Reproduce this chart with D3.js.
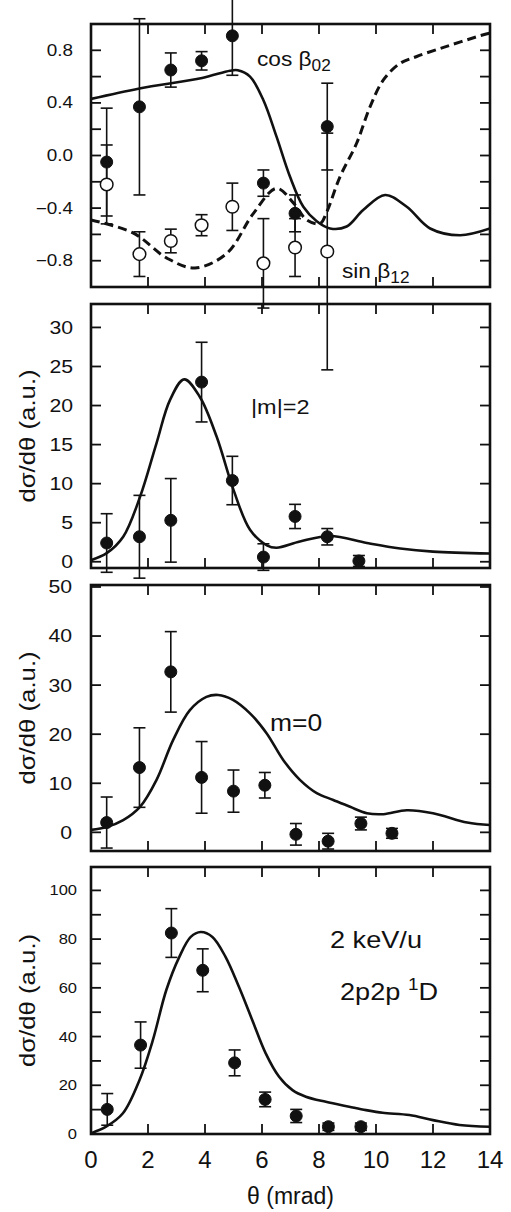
<!DOCTYPE html>
<html><head><meta charset="utf-8">
<script src="https://cdn.jsdelivr.net/npm/d3@7"></script>
<style>body{margin:0;background:#fff}text{font-family:"Liberation Sans",Arial,sans-serif;fill:#111}</style>
</head><body><svg id="c" width="511" height="1212"></svg>
<script>
// ---------- data ----------
const xTicks = [0, 2, 4, 6, 8, 10, 12, 14];

// panel 1: cos beta02 (filled) and sin beta12 (open)
const p1Theta = [0.55, 1.70, 2.80, 3.88, 4.96, 6.05, 7.16, 8.29];
const cosVal = [-0.05, 0.37, 0.65, 0.72, 0.91, -0.21, -0.44, 0.22];
const cosErr = [0.41, 0.67, 0.13, 0.07, 0.30, 0.10, 0.14, 0.33];
const sinVal = [-0.22, -0.75, -0.65, -0.53, -0.39, -0.82, -0.70, -0.73];
const sinErr = [0.30, 0.17, 0.09, 0.08, 0.18, 0.34, 0.22, 0.90];
const cosCurveTheta = [0, 1.7, 3.9, 4.88, 5.15, 5.58, 6.05, 6.51, 6.98, 7.45, 7.92, 8.39, 8.97, 9.55, 10.32, 11.08, 11.9, 12.95, 14];
const cosCurve = [0.43, 0.51, 0.59, 0.645, 0.648, 0.60, 0.42, 0.143, -0.16, -0.39, -0.50, -0.555, -0.54, -0.415, -0.30, -0.39, -0.555, -0.606, -0.555];
const sinCurveTheta = [0, 1.49, 2.66, 3.65, 4.76, 5.7, 6.51, 7.1, 7.57, 8.04, 8.27, 8.74, 9.32, 9.79, 10.26, 10.84, 11.43, 12.48, 13.77, 14];
const sinCurve = [-0.49, -0.59, -0.78, -0.855, -0.745, -0.44, -0.25, -0.36, -0.49, -0.517, -0.43, -0.16, 0.093, 0.37, 0.575, 0.70, 0.753, 0.83, 0.918, 0.93];
const p1Ticks = [-0.8, -0.6, -0.4, -0.2, 0, 0.2, 0.4, 0.6, 0.8];
const p1Labels = [-0.8, -0.4, 0, 0.4, 0.8];

// panel 2: |m|=2
const m2Theta = [0.55, 1.70, 2.80, 3.88, 4.96, 6.05, 7.16, 8.29, 9.40];
const m2Val = [2.4, 3.2, 5.3, 23.0, 10.4, 0.6, 5.8, 3.2, 0.1];
const m2Err = [3.75, 5.3, 5.35, 5.1, 3.1, 1.7, 1.55, 1.05, 0.7];
const m2CurveTheta = [0, 0.55, 1.13, 1.72, 2.3, 2.77, 3.27, 3.82, 4.41, 5.0, 5.58, 6.17, 6.51, 7.33, 8.39, 9.68, 10.85, 12.0, 14];
const m2Curve = [0.2, 1.1, 3.2, 8.3, 15.2, 20.7, 23.35, 21.1, 16.0, 9.2, 4.1, 2.1, 1.8, 2.6, 3.3, 2.4, 1.7, 1.3, 1.05];
const p2Ticks = [0, 5, 10, 15, 20, 25, 30];
const p2Labels = [0, 5, 10, 15, 20, 25, 30];

// panel 3: m=0
const m0Theta = [0.55, 1.70, 2.80, 3.88, 5.0, 6.1, 7.19, 8.32, 9.47, 10.56];
const m0Val = [2.0, 13.2, 32.7, 11.2, 8.4, 9.6, -0.4, -1.8, 1.8, -0.2];
const m0Err = [5.2, 8.1, 8.2, 7.3, 4.3, 2.6, 2.2, 1.6, 1.3, 1.0];
const m0CurveTheta = [0, 0.55, 1.13, 1.72, 2.3, 2.88, 3.47, 4.05, 4.46, 4.98, 5.57, 6.16, 6.75, 7.33, 7.92, 8.5, 9.09, 9.68, 10.26, 11.08, 12.0, 13.2, 14];
const m0Curve = [0.5, 1.1, 2.5, 5.2, 10.7, 18.8, 24.9, 27.6, 28.0, 27.0, 24.3, 20.2, 14.7, 10.7, 8.0, 6.6, 5.2, 3.9, 3.7, 4.5, 3.9, 2.0, 1.5];
const p3Ticks = [0, 10, 20, 30, 40, 50];
const p3Labels = [0, 10, 20, 30, 40, 50];

// panel 4: total 2p2p 1D
const totTheta = [0.57, 1.74, 2.82, 3.92, 5.04, 6.11, 7.2, 8.33, 9.47];
const totVal = [10.1, 36.5, 82.5, 67.2, 29.2, 14.2, 7.4, 3.0, 3.0];
const totErr = [6.5, 9.5, 10, 8.8, 5.3, 3, 2.7, 1.5, 1.5];
const totCurveTheta = [0, 0.53, 1.12, 1.7, 2.17, 2.64, 3.1, 3.5, 3.85, 4.26, 4.72, 5.19, 5.66, 6.13, 6.6, 7.07, 7.54, 8.24, 9.06, 9.65, 10.23, 11.17, 12.0, 12.93, 14];
const totCurve = [0.3, 3.0, 8.5, 22.1, 38.5, 59, 72.7, 80.9, 82.9, 80.9, 72.7, 60.4, 46.7, 33.1, 23.5, 18.0, 15.3, 13.2, 11.2, 9.8, 8.7, 7.8, 5.7, 3.7, 3.0];
const p4Ticks = [0, 10, 20, 30, 40, 50, 60, 70, 80, 90, 100];
const p4Labels = [0, 20, 40, 60, 80, 100];

// ---------- drawing ----------
const svg = d3.select("#c");
const X0 = 91, X1 = 490;
const x = d3.scaleLinear().domain([0, 14]).range([X0, X1]);
const TL = 10;

const panels = [
  {top: 24, bottom: 287, domain: [-1, 1], ticks: p1Ticks, labels: p1Labels, fmt: d3.format(".1f"), fs: 16, lx: 73,
   curves: [{t: cosCurveTheta, v: cosCurve, dash: null}, {t: sinCurveTheta, v: sinCurve, dash: "9,5"}],
   series: [{t: p1Theta, v: cosVal, e: cosErr, open: false}, {t: p1Theta, v: sinVal, e: sinErr, open: true}]},
  {top: 304, bottom: 568, domain: [-0.8, 33], ticks: p2Ticks, labels: p2Labels, fmt: d3.format("d"), fs: 18, lx: 73, ylabel: true,
   curves: [{t: m2CurveTheta, v: m2Curve, dash: null}],
   series: [{t: m2Theta, v: m2Val, e: m2Err, open: false}]},
  {top: 585, bottom: 851, domain: [-3.8, 50.4], ticks: p3Ticks, labels: p3Labels, fmt: d3.format("d"), fs: 18, lx: 72, ylabel: true,
   curves: [{t: m0CurveTheta, v: m0Curve, dash: null}],
   series: [{t: m0Theta, v: m0Val, e: m0Err, open: false}]},
  {top: 867, bottom: 1134, domain: [0, 109.6], ticks: p4Ticks, labels: p4Labels, fmt: d3.format("d"), fs: 14, lx: 77, ylabel: true, xaxis: true,
   curves: [{t: totCurveTheta, v: totCurve, dash: null}],
   series: [{t: totTheta, v: totVal, e: totErr, open: false}]}
];

panels.forEach((p, pi) => {
  const y = d3.scaleLinear().domain(p.domain).range([p.bottom, p.top]);
  const g = svg.append("g");
  const clipId = "clip" + pi;
  svg.append("clipPath").attr("id", clipId).append("rect")
    .attr("x", X0).attr("y", p.top).attr("width", X1 - X0).attr("height", p.bottom - p.top);

  // ticks (inward, all four sides)
  const tk = g.append("g").attr("stroke", "#111").attr("stroke-width", 1.8);
  p.ticks.forEach(v => {
    tk.append("line").attr("x1", X0).attr("x2", X0 + TL).attr("y1", y(v)).attr("y2", y(v));
    tk.append("line").attr("x1", X1).attr("x2", X1 - TL).attr("y1", y(v)).attr("y2", y(v));
  });
  xTicks.forEach(v => {
    tk.append("line").attr("x1", x(v)).attr("x2", x(v)).attr("y1", p.bottom).attr("y2", p.bottom - TL);
    tk.append("line").attr("x1", x(v)).attr("x2", x(v)).attr("y1", p.top).attr("y2", p.top + TL);
  });
  // y tick labels
  p.labels.forEach(v => {
    g.append("text").attr("x", 0).attr("y", 0)
      .attr("transform", `translate(${p.lx},${y(v)}) scale(1.18,1)`)
      .attr("text-anchor", "end").attr("dominant-baseline", "central")
      .attr("font-size", p.fs).text(p.fmt(v) === "-0.0" ? "0.0" : p.fmt(v));
  });

  // curves
  const line = d3.line().x(d => x(d[0])).y(d => y(d[1])).curve(d3.curveCatmullRom.alpha(0.5));
  p.curves.forEach(c => {
    g.append("path").datum(d3.zip(c.t, c.v)).attr("d", line)
      .attr("clip-path", `url(#${clipId})`)
      .attr("fill", "none").attr("stroke", "#111")
      .attr("stroke-width", c.dash ? 3 : 2.6)
      .attr("stroke-dasharray", c.dash);
  });

  // error bars + points
  p.series.forEach(s => {
    const eg = g.append("g").attr("stroke", "#111").attr("stroke-width", 1.6);
    s.t.forEach((t, i) => {
      const cx = x(t), yt = y(s.v[i] + s.e[i]), yb = y(s.v[i] - s.e[i]);
      eg.append("line").attr("x1", cx).attr("x2", cx).attr("y1", yt).attr("y2", yb);
      eg.append("line").attr("x1", cx - 6).attr("x2", cx + 6).attr("y1", yt).attr("y2", yt);
      eg.append("line").attr("x1", cx - 6).attr("x2", cx + 6).attr("y1", yb).attr("y2", yb);
    });
  });
  p.series.forEach(s => {
    g.append("g").selectAll("circle").data(d3.zip(s.t, s.v)).join("circle")
      .attr("cx", d => x(d[0])).attr("cy", d => y(d[1]))
      .attr("r", s.open ? 6.3 : 6)
      .attr("fill", s.open ? "#fff" : "#111")
      .attr("stroke", "#111").attr("stroke-width", s.open ? 1.5 : 1);
  });

  // frame
  g.append("rect").attr("x", X0).attr("y", p.top).attr("width", X1 - X0).attr("height", p.bottom - p.top)
    .attr("fill", "none").attr("stroke", "#111").attr("stroke-width", 2.6);

  if (p.ylabel) {
    g.append("text").attr("transform", `translate(35,${(p.top + p.bottom) / 2}) rotate(-90) scale(1.17,1)`)
      .attr("text-anchor", "middle").attr("font-size", 22).text("dσ/dθ (a.u.)");
  }
  if (p.xaxis) {
    xTicks.forEach(v => {
      g.append("text").attr("x", x(v)).attr("y", p.bottom + 34).attr("text-anchor", "middle")
        .attr("font-size", 24).text(v);
    });
    g.append("text").attr("x", (X0 + X1) / 2).attr("y", p.bottom + 70).attr("text-anchor", "middle")
      .attr("font-size", 23).text("θ (mrad)");
  }
});

// annotations
function lab(xp, yp, fs, sx, parts) {
  const t = svg.append("text").attr("transform", `translate(${xp},${yp}) scale(${sx},1)`).attr("font-size", fs);
  parts.forEach(pt => {
    const s = t.append("tspan").text(pt.s);
    if (pt.fs) s.attr("font-size", pt.fs);
    if (pt.dy) s.attr("dy", pt.dy);
  });
}
lab(257, 66, 21, 1.08, [{s: "cos β"}, {s: "02", fs: 16, dy: 5}]);
lab(342, 278, 21, 1.08, [{s: "sin β"}, {s: "12", fs: 16, dy: 5}]);
lab(251, 414, 21, 1.12, [{s: "|m|=2"}]);
lab(270, 731, 23, 1.15, [{s: "m=0"}]);
lab(330, 948, 23, 1.18, [{s: "2 keV/u"}]);
lab(340, 1000, 23, 1.18, [{s: "2p2p "}, {s: "1", fs: 16, dy: -10}, {s: "D", dy: 10}]);
</script>
</body></html>
